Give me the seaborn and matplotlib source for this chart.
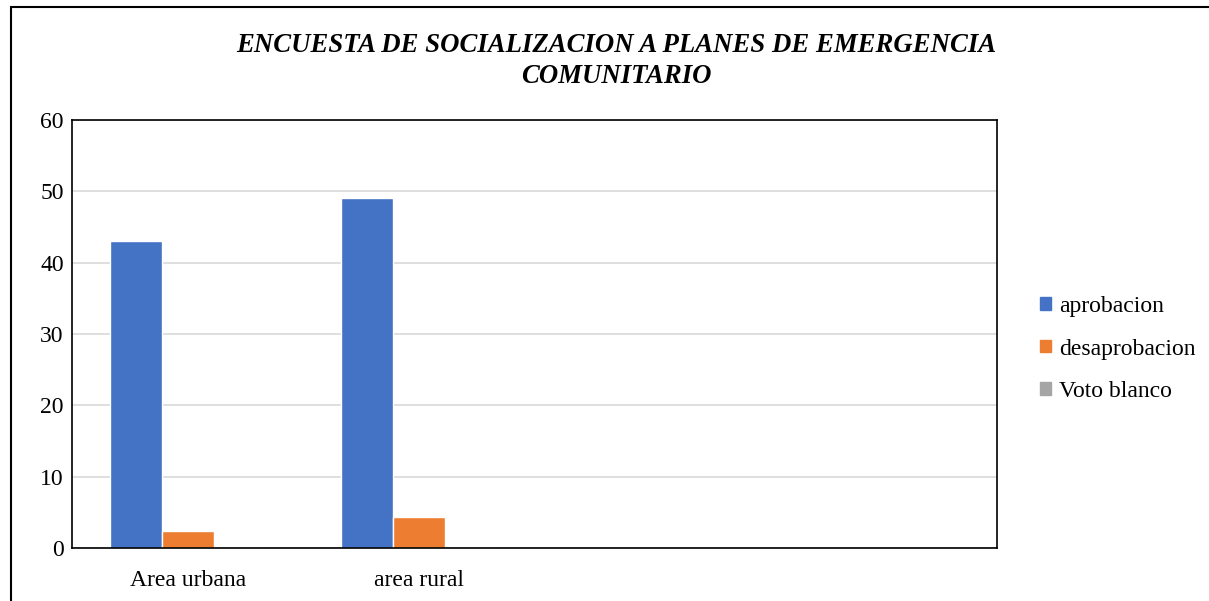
import matplotlib
matplotlib.use("Agg")
import matplotlib.pyplot as plt
from matplotlib.patches import Rectangle
import seaborn as sns
import pandas as pd

# data
categories = ["Area urbana", "area rural"]
series = ["aprobacion", "desaprobacion", "Voto blanco"]
aprobacion = [43, 49]
desaprobacion = [2.4, 4.3]
voto_blanco = [0, 0]
colors = ["#4472C4", "#ED7D31", "#A5A5A5"]

rows = []
for name, vals in zip(series, [aprobacion, desaprobacion, voto_blanco]):
    for cat, v in zip(categories, vals):
        rows.append({"cat": cat, "serie": name, "valor": v})
df = pd.DataFrame(rows)

sns.set_style("white")
plt.rcParams["font.family"] = ["Liberation Serif", "DejaVu Serif"]
plt.rcParams["text.color"] = "black"
plt.rcParams["xtick.color"] = "black"
plt.rcParams["ytick.color"] = "black"

fig = plt.figure(figsize=(12.09, 6.01), dpi=100)
ax = fig.add_axes([72 / 1209, 1 - 548 / 601, 925 / 1209, 428 / 601])

sns.barplot(data=df, x="cat", y="valor", hue="serie", palette=colors,
            width=0.675, gap=0, saturation=1, ax=ax, legend=False)

ax.set_xlim(-0.5, 3.5)
ax.set_ylim(0, 60)
ax.set_yticks(range(0, 61, 10))
ax.grid(axis="y", color="#D9D9D9", linewidth=1.2)
ax.set_axisbelow(True)
for s in ax.spines.values():
    s.set_visible(True)
    s.set_color("black")
    s.set_linewidth(1.2)
ax.tick_params(axis="both", length=0, labelsize=17)
ax.tick_params(axis="x", pad=16)
ax.tick_params(axis="y", pad=6)
ax.set_xlabel("")
ax.set_ylabel("")

# legend
handles = [Rectangle((0, 0), 1, 1, color=c) for c in colors]
fig.legend(handles, series, loc="center left", bbox_to_anchor=(1019 / 1209, 1 - 349 / 601),
           frameon=False, fontsize=17, handlelength=0.45, handleheight=0.45,
           handletextpad=0.35, labelspacing=0.9)

fig.text(616 / 1209, 1 - 61 / 601,
         "ENCUESTA DE SOCIALIZACION A PLANES DE EMERGENCIA\nCOMUNITARIO",
         ha="center", va="center", fontsize=19.3, fontweight="bold", fontstyle="italic",
         linespacing=1.3)

# outer frame of the chart area
fig.patches.append(Rectangle((11 / 1209, -0.1), 1.2, 1.1 - 7 / 601, transform=fig.transFigure,
                             fill=False, edgecolor="black", linewidth=1.5))

fig.savefig("out.png", dpi=100)
